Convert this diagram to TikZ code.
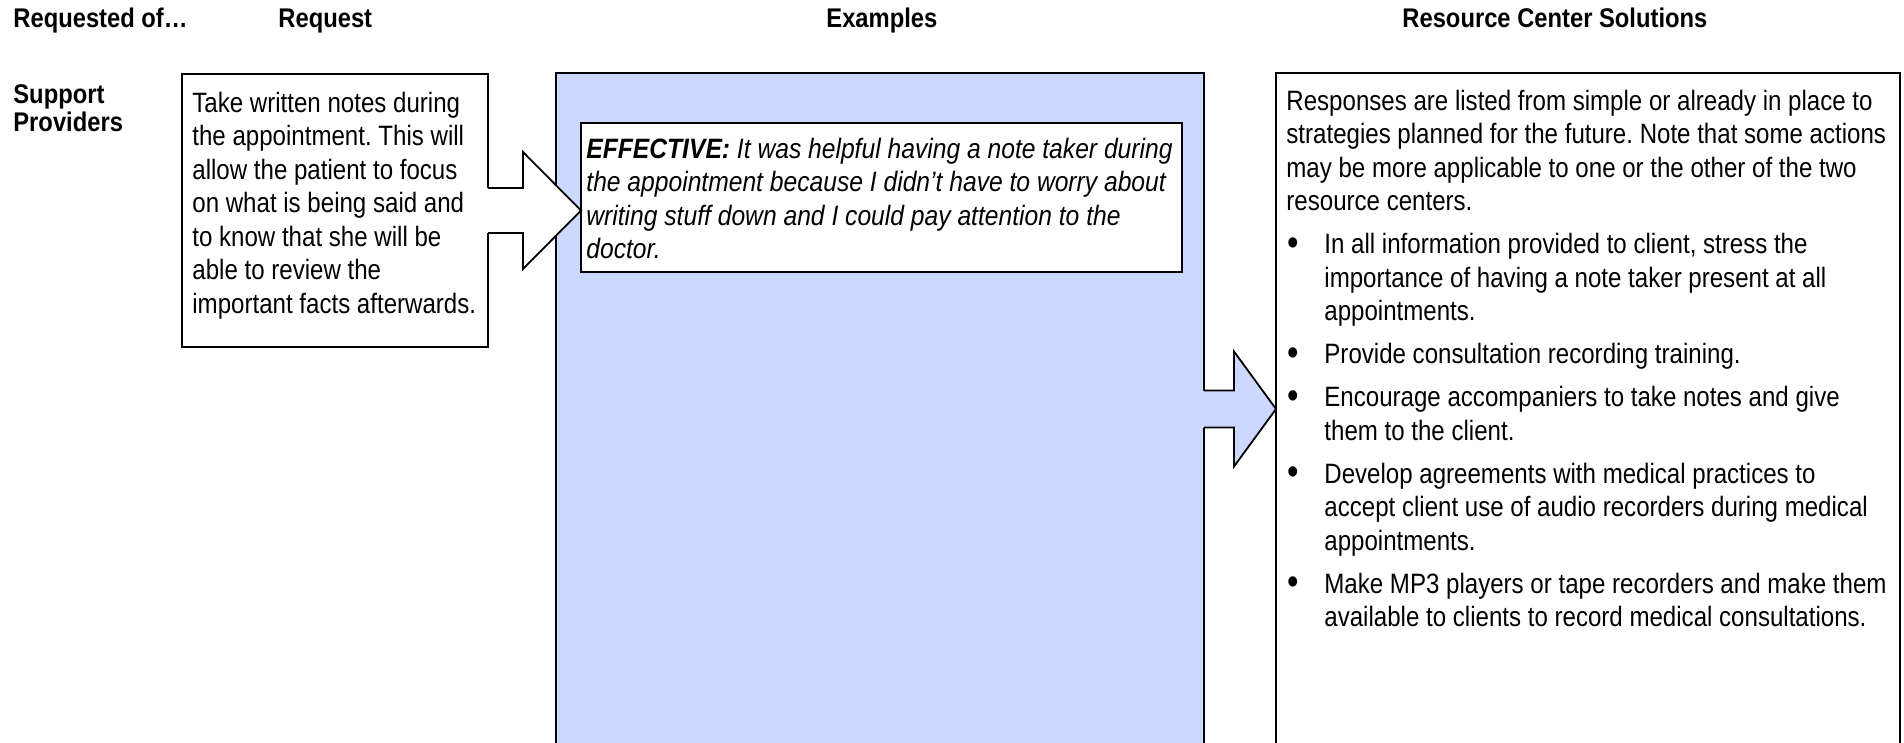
\documentclass[tikz,border=0pt]{standalone}
\usepackage{fontspec}
\setmainfont{Liberation Sans}[FakeStretch=0.88]
\newfontfamily\resfont{Liberation Sans}[FakeStretch=0.86]
\frenchspacing
\usetikzlibrary{calc}

\definecolor{examplefill}{RGB}{204,216,255}
\newcommand{\bulletline}{\hangindent=19pt\hangafter=0\noindent\llap{\raisebox{-0.8pt}{\fontsize{19}{19}\selectfont\textbullet}\hspace{12.6pt}}}

\tikzset{
  box/.style={draw, line width=0.9pt, inner sep=0pt, outer sep=0pt, anchor=north west},
  colhead/.style={font=\fontsize{13.5}{14}\selectfont\bfseries, anchor=base west, inner sep=0pt},
  bodytext/.style={font=\fontsize{14}{16.75}\selectfont, align=left, inner sep=0pt, anchor=north west},
  arrowline/.style={line width=0.9pt, line join=miter}
}

\begin{document}
\begin{tikzpicture}[x=0.5pt,y=-0.5pt]
\useasboundingbox (0,0) rectangle (1904,743);

% column heads
\node[colhead] (hwho) at (13,28) {Requested of…};
\node[colhead] (hreq) at (278,28) {Request};
\node[colhead] (hex) at (826,28) {Examples};
\node[colhead] (hres) at (1402,28) {Resource Center Solutions};
\node[colhead, align=left, anchor=north west] (who) at (13,84) {Support\\Providers};

% boxes
\node[box, fill=examplefill, minimum width=324pt, minimum height=336pt] (blue) at (556,73) {};
\node[box, fill=white, minimum width=300.5pt, minimum height=74.5pt] (ex) at (581,123) {};
\node[box, minimum width=153pt, minimum height=136.5pt] (req) at (182,74) {};
\node[box, minimum width=312pt, minimum height=336pt] (res) at (1276,73) {};

\node[bodytext, font=\fontsize{14}{16.75}\resfont] (reqtext) at ($(req.north west)+(10,17.5)$) {Take written notes during\\
the appointment. This will\\
allow the patient to focus\\
on what is being said and\\
to know that she will be\\
able to review the\\
important facts afterwards.};

\node[bodytext, font=\fontsize{14}{16.75}\selectfont\itshape] (extext) at ($(ex.north west)+(5,14.5)$) {\textbf{EFFECTIVE:} It was helpful having a note taker during\\
the appointment because I didn’t have to worry about\\
writing stuff down and I could pay attention to the\\
doctor.};

\node[bodytext, font=\fontsize{14}{16.75}\resfont, align=flush left, text width=340pt] (restext) at ($(res.north west)+(10,16.5)$) {\setlength{\parskip}{4.75pt}%
Responses are listed from simple or already in place to\newline
strategies planned for the future. Note that some actions\newline
may be more applicable to one or the other of the two\newline
resource centers.\par
\bulletline In all information provided to client, stress the\newline
importance of having a note taker present at all\newline
appointments.\par
\bulletline Provide consultation recording training.\par
\bulletline Encourage accompaniers to take notes and give\newline
them to the client.\par
\bulletline Develop agreements with medical practices to\newline
accept client use of audio recorders during medical\newline
appointments.\par
\bulletline Make MP3 players or tape recorders and make them\newline
available to clients to record medical consultations.\par};

% block arrows
\coordinate (tipone) at (ex.west |- req.east);
\fill[white] ($(req.east)+(-1,-22.5)$) -- ++(36,0) -- ++(0,-36) -- (tipone)
  -- ($(req.east)+(35,58.5)$) -- ++(0,-36) -- ($(req.east)+(-1,22.5)$) -- cycle;
\draw[arrowline] ($(req.east)+(0,-22.5)$) -- ++(35,0) -- ++(0,-36) -- (tipone)
  -- ($(req.east)+(35,58.5)$) -- ++(0,-36) -- ($(req.east)+(0,22.5)$);

\fill[examplefill] ($(blue.east)+(-1,-18.5)$) -- ++(31,0) -- ++(0,-39) -- (res.west)
  -- ($(blue.east)+(30,57.5)$) -- ++(0,-39) -- ($(blue.east)+(-1,18.5)$) -- cycle;
\draw[arrowline] ($(blue.east)+(0,-18.5)$) -- ++(30,0) -- ++(0,-39) -- (res.west)
  -- ($(blue.east)+(30,57.5)$) -- ++(0,-39) -- ($(blue.east)+(0,18.5)$);

\end{tikzpicture}
\end{document}
